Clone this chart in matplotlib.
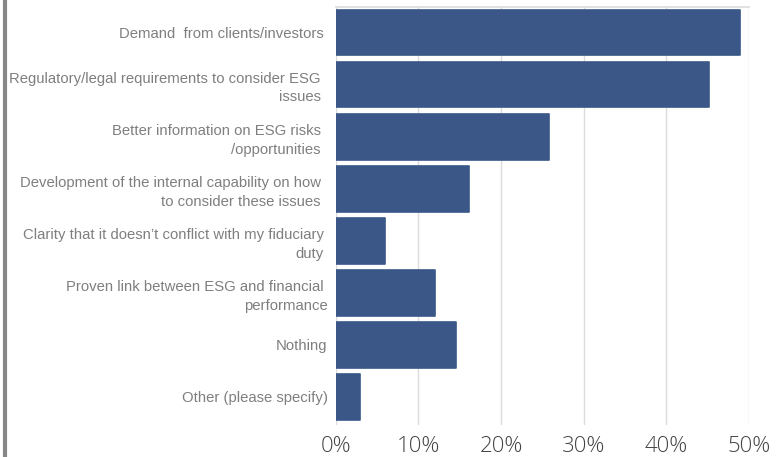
import numpy as np
import matplotlib.pyplot as plt
from matplotlib.ticker import FuncFormatter

labels = [
    "Demand  from clients/investors",
    "Regulatory/legal requirements to consider ESG\nissues",
    "Better information on ESG risks\n/opportunities",
    "Development of the internal capability on how\nto consider these issues",
    "Clarity that it doesn\u2019t conflict with my fiduciary\nduty",
    "Proven link between ESG and financial \nperformance",
    "Nothing",
    "Other (please specify)",
]
values = [48.9, 45.2, 25.8, 16.1, 6.0, 12.0, 14.6, 3.0]
label_pads = [8.6, 10.8, 10.8, 10.8, 8.6, 5.8, 5.8, 5.8]

bar_color = "#3a5788"
grid_color = "#dcdcdc"

fig = plt.figure(figsize=(7.76, 4.57), dpi=100)
ax = fig.add_axes([0.4326, 0.07, 0.9652 - 0.4326, 0.9847 - 0.07])

y = np.arange(len(labels))
ax.barh(y, values, height=0.88, color=bar_color, edgecolor=bar_color,
        linewidth=1.2, joinstyle="round", zorder=3)

ax.set_xlim(0, 50)
ax.set_ylim(7.54, -0.49)
ax.set_xticks(np.arange(0, 51, 10))
ax.xaxis.set_major_formatter(FuncFormatter(lambda v, p: f"{v:.0f}%"))
ax.set_yticks(y)
ax.set_yticklabels(labels, fontsize=10.7, color="#7f7f7f",
                   family="Liberation Sans", linespacing=1.4)
for tick, pad in zip(ax.yaxis.get_major_ticks(), label_pads):
    tick.set_pad(pad)

for lbl in ax.get_xticklabels():
    lbl.set_family("Open Sans")
    lbl.set_fontweight("light")
    lbl.set_fontsize(16)
    lbl.set_color("#444444")
ax.tick_params(axis="x", length=0, pad=8)
ax.tick_params(axis="y", length=0)

ax.grid(axis="x", color=grid_color, linewidth=1, zorder=0)
for s in ["left", "right", "bottom"]:
    ax.spines[s].set_visible(False)
ax.spines["top"].set_color(grid_color)
ax.spines["top"].set_linewidth(1.2)

# grey rule on the left edge
fig.add_artist(plt.Line2D([5.3 / 776, 5.3 / 776], [0, 1], color="#888888",
                          linewidth=3, transform=fig.transFigure))

fig.savefig("out.png", dpi=100)
